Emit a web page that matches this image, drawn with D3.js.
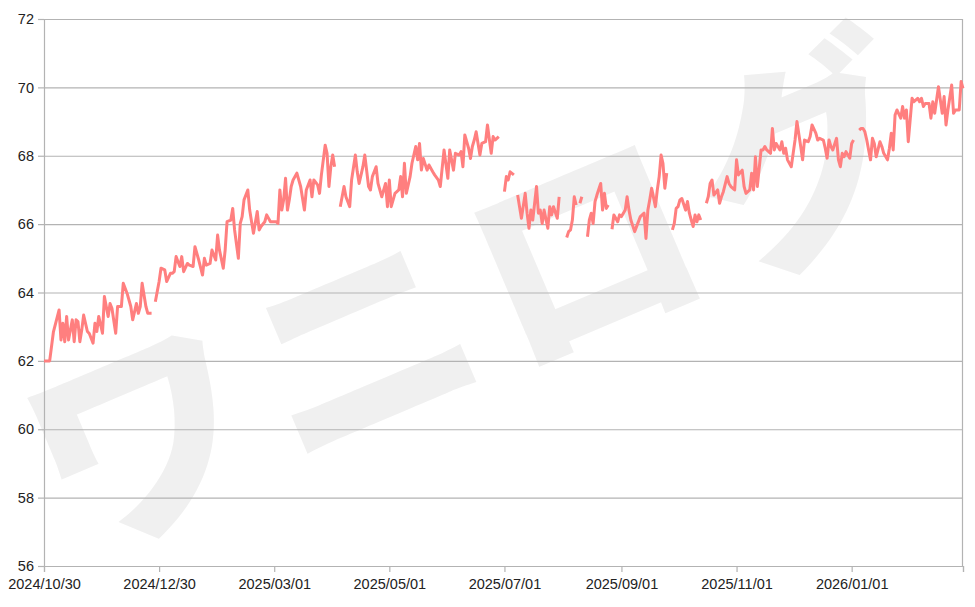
<!DOCTYPE html>
<html>
<head>
<meta charset="utf-8">
<script src="https://cdn.jsdelivr.net/npm/d3@7"></script>
<style>
body{margin:0;background:#fff;overflow:hidden;}
</style>
</head>
<body>
<svg id="main"></svg>
<script>
//--------data----------
const yTicks = [56, 58, 60, 62, 64, 66, 68, 70, 72];
const xTickDates = ['2024-10-30','2024-12-30','2025-03-01','2025-05-01','2025-07-01','2025-09-01','2025-11-01','2026-01-01','2026-03-01'];
const xTickLabels = ['2024/10/30','2024/12/30','2025/03/01','2025/05/01','2025/07/01','2025/09/01','2025/11/01','2026/01/01',''];
const watermark = 'ワニログ';

const seg1 = [
  ['2024-10-30',62.0],['2024-11-02',62.0],['2024-11-04',62.85],['2024-11-07',63.49],['2024-11-08',62.61],
  ['2024-11-09',63.10],['2024-11-10',62.56],['2024-11-11',63.30],['2024-11-12',62.61],['2024-11-14',63.20],
  ['2024-11-15',62.56],['2024-11-16',63.20],['2024-11-17',63.15],['2024-11-18',62.56],['2024-11-19',62.90],
  ['2024-11-20',63.34],['2024-11-22',62.86],['2024-11-23',62.80],['2024-11-25',62.52],['2024-11-26',63.10],
  ['2024-11-27',62.86],['2024-11-28',63.30],['2024-11-30',62.81],['2024-12-01',63.88],['2024-12-03',63.30],
  ['2024-12-04',63.68],['2024-12-05',63.54],['2024-12-07',62.81],['2024-12-08',63.59],['2024-12-10',63.59],
  ['2024-12-11',64.27],['2024-12-13',63.98],['2024-12-15',63.59],['2024-12-16',63.20],['2024-12-18',63.68],
  ['2024-12-19',63.39],['2024-12-20',63.59],['2024-12-21',64.27],['2024-12-23',63.59],['2024-12-24',63.39],
  ['2024-12-26',63.39]
];
const seg2 = [
  ['2024-12-28',63.73],['2024-12-30',64.32],['2024-12-31',64.71],['2025-01-02',64.66],['2025-01-03',64.32],
  ['2025-01-05',64.56],['2025-01-06',64.56],['2025-01-07',64.61],['2025-01-08',65.05],['2025-01-10',64.76],
  ['2025-01-11',65.05],['2025-01-12',64.61],['2025-01-14',64.85],['2025-01-15',64.80],['2025-01-17',64.76],
  ['2025-01-18',65.34],['2025-01-20',64.95],['2025-01-22',64.51],['2025-01-23',65.00],['2025-01-24',64.80],
  ['2025-01-26',64.85],['2025-01-27',65.24],['2025-01-29',64.95],['2025-01-30',65.68],['2025-01-31',65.24],
  ['2025-02-02',64.71],['2025-02-03',65.24],['2025-02-04',66.07],['2025-02-06',66.12],['2025-02-07',66.46],
  ['2025-02-08',65.83],['2025-02-10',65.00],['2025-02-11',66.02],['2025-02-12',66.22],['2025-02-13',66.71],
  ['2025-02-15',67.00],['2025-02-16',66.41],['2025-02-17',66.07],['2025-02-18',65.73],['2025-02-20',66.37],
  ['2025-02-21',65.83],['2025-02-22',65.93],['2025-02-24',66.07],['2025-02-25',66.27],['2025-02-27',66.07],
  ['2025-03-01',66.07],['2025-03-02',66.07],['2025-03-03',66.02],['2025-03-04',67.00],['2025-03-05',66.41],
  ['2025-03-06',66.71],['2025-03-07',67.34],['2025-03-08',66.41],['2025-03-09',66.71],['2025-03-10',67.10],
  ['2025-03-11',67.29],['2025-03-13',67.49],['2025-03-15',67.10],['2025-03-17',66.41],['2025-03-18',67.00],
  ['2025-03-20',67.29],['2025-03-21',66.80],['2025-03-22',67.29],['2025-03-24',67.15],['2025-03-25',66.90],
  ['2025-03-26',67.44],['2025-03-28',68.31],['2025-03-29',68.07],['2025-03-30',67.10],['2025-03-31',67.68],
  ['2025-04-01',68.02],['2025-04-02',67.68]
];
const seg3 = [
  ['2025-04-05',66.51],['2025-04-07',67.10],['2025-04-08',66.80],['2025-04-10',66.51],['2025-04-11',67.29],
  ['2025-04-13',68.02],['2025-04-14',67.53],['2025-04-15',67.19],['2025-04-17',67.68],['2025-04-18',68.02],
  ['2025-04-20',67.10],['2025-04-21',67.00],['2025-04-22',67.39],['2025-04-24',67.68],['2025-04-25',67.19],
  ['2025-04-27',66.80],['2025-04-29',67.19],['2025-04-30',66.51],['2025-05-01',67.29],['2025-05-02',66.51],
  ['2025-05-04',66.90],['2025-05-06',67.00],['2025-05-07',67.39],['2025-05-08',66.80],['2025-05-09',67.78],
  ['2025-05-10',66.90],['2025-05-12',67.39],['2025-05-13',67.78],['2025-05-15',68.27],['2025-05-16',67.88],
  ['2025-05-17',68.36],['2025-05-18',67.58],['2025-05-19',67.92],['2025-05-21',67.58],['2025-05-22',67.73],
  ['2025-05-24',67.53],['2025-05-25',67.44],['2025-05-27',67.29],['2025-05-28',67.10],['2025-05-30',68.17],
  ['2025-06-01',67.34],['2025-06-02',68.17],['2025-06-04',67.58],['2025-06-05',68.07],['2025-06-07',68.02],
  ['2025-06-08',68.12],['2025-06-09',67.68],['2025-06-10',68.61],['2025-06-12',68.22],['2025-06-13',67.92],
  ['2025-06-14',68.27],['2025-06-15',68.46],['2025-06-16',68.70],['2025-06-18',68.02],['2025-06-19',68.36],
  ['2025-06-21',68.41],['2025-06-22',68.90],['2025-06-24',68.07],['2025-06-25',68.56],['2025-06-26',68.46],
  ['2025-06-28',68.56]
];
const seg4 = [
  ['2025-07-01',66.95],['2025-07-02',67.39],['2025-07-03',67.29],['2025-07-04',67.53],['2025-07-06',67.44]
];
const seg5 = [
  ['2025-07-08',66.85],['2025-07-09',66.51],['2025-07-10',66.17],['2025-07-12',66.90],['2025-07-13',66.32],
  ['2025-07-14',65.88],['2025-07-15',66.41],['2025-07-16',66.12],['2025-07-18',67.10],['2025-07-19',66.32],
  ['2025-07-20',66.41],['2025-07-21',66.02],['2025-07-22',66.41],['2025-07-24',65.88],['2025-07-25',66.51],
  ['2025-07-26',66.27],['2025-07-27',66.51],['2025-07-29',66.17],['2025-07-30',66.80]
];
const seg6 = [
  ['2025-08-03',65.61],['2025-08-04',65.78],['2025-08-05',65.83],['2025-08-06',66.12],['2025-08-07',66.80],
  ['2025-08-08',66.56]
];
const seg7 = [['2025-08-10',66.61],['2025-08-11',66.80]];
const seg8 = [
  ['2025-08-14',65.63],['2025-08-15',66.12],['2025-08-16',66.32],['2025-08-17',66.02],['2025-08-18',66.66],
  ['2025-08-19',66.85],['2025-08-21',67.19],['2025-08-22',66.41],['2025-08-23',66.90],['2025-08-24',66.46],
  ['2025-08-25',66.56]
];
const seg9 = [
  ['2025-08-27',65.85],['2025-08-28',66.27],['2025-08-29',66.17],['2025-08-30',66.07],['2025-08-31',66.27],
  ['2025-09-01',66.22],['2025-09-03',66.41],['2025-09-04',66.80],['2025-09-05',66.41],['2025-09-06',66.12],
  ['2025-09-08',65.78],['2025-09-11',66.22],['2025-09-13',66.32],['2025-09-14',65.58],['2025-09-15',66.41],
  ['2025-09-16',66.71],['2025-09-17',67.05],['2025-09-19',66.51],['2025-09-20',67.00],['2025-09-21',67.39],
  ['2025-09-22',68.02],['2025-09-23',67.78],['2025-09-24',67.05],['2025-09-25',67.49]
];
const seg10 = [
  ['2025-09-28',65.83],['2025-09-29',66.02],['2025-09-30',66.46],['2025-10-01',66.51],['2025-10-02',66.71],
  ['2025-10-03',66.75],['2025-10-05',66.41],['2025-10-06',66.66],['2025-10-07',66.32],['2025-10-08',66.12],
  ['2025-10-09',65.93],['2025-10-10',66.27],['2025-10-11',66.07],['2025-10-12',66.27],['2025-10-13',66.12]
];
const seg11 = [
  ['2025-10-16',66.61],['2025-10-17',66.80],['2025-10-18',67.19],['2025-10-19',67.29],['2025-10-20',66.85],
  ['2025-10-22',67.00],['2025-10-23',66.61],['2025-10-24',66.80],['2025-10-25',66.95],['2025-10-27',67.39],
  ['2025-10-28',67.19],['2025-10-29',67.10],['2025-10-31',67.00],['2025-11-01',67.88],['2025-11-02',67.44],
  ['2025-11-04',67.58],['2025-11-05',67.10],['2025-11-06',66.90],['2025-11-08',67.00],['2025-11-09',67.49],
  ['2025-11-10',67.00],['2025-11-11',67.97],['2025-11-12',67.10],['2025-11-14',68.17],['2025-11-15',68.17],
  ['2025-11-16',68.27],['2025-11-17',68.17],['2025-11-19',68.07],['2025-11-20',68.80],['2025-11-21',68.17],
  ['2025-11-22',68.36],['2025-11-24',68.17],['2025-11-25',68.41],['2025-11-26',68.07],['2025-11-27',68.22],
  ['2025-11-28',67.88],['2025-11-30',67.68],['2025-12-01',68.07],['2025-12-02',68.46],['2025-12-03',69.00],
  ['2025-12-05',68.27],['2025-12-06',67.88],['2025-12-07',68.46],['2025-12-09',68.41],['2025-12-10',68.56],
  ['2025-12-11',68.90],['2025-12-13',68.66],['2025-12-14',68.46],['2025-12-15',68.51],['2025-12-17',68.46],
  ['2025-12-18',68.22],['2025-12-19',67.93],['2025-12-20',68.46],['2025-12-21',68.27],['2025-12-22',68.17],
  ['2025-12-24',68.51],['2025-12-25',67.88],['2025-12-26',67.68],['2025-12-27',68.07],['2025-12-28',67.97],
  ['2025-12-29',68.12],['2025-12-31',67.93],['2026-01-01',68.36],['2026-01-02',68.46]
];
const seg12 = [
  ['2026-01-05',68.75],['2026-01-06',68.80],['2026-01-07',68.80],['2026-01-08',68.70],['2026-01-09',68.46],
  ['2026-01-10',68.17],['2026-01-11',67.88],['2026-01-12',68.51],['2026-01-13',68.36],['2026-01-14',67.97],
  ['2026-01-16',68.41],['2026-01-17',68.27],['2026-01-18',68.07],['2026-01-20',67.88],['2026-01-21',68.22],
  ['2026-01-22',68.66],['2026-01-23',68.17],['2026-01-24',69.19],['2026-01-25',69.34],['2026-01-27',69.10],
  ['2026-01-28',69.44],['2026-01-29',69.10],['2026-01-30',69.34],['2026-01-31',68.41],['2026-02-02',69.68],
  ['2026-02-03',69.58],['2026-02-05',69.68],['2026-02-06',69.58],['2026-02-07',69.68],['2026-02-08',69.44],
  ['2026-02-09',69.53],['2026-02-11',69.53],['2026-02-12',69.10],['2026-02-13',69.58],['2026-02-14',69.24],
  ['2026-02-15',69.63],['2026-02-16',70.02],['2026-02-18',69.24],['2026-02-19',69.73],['2026-02-20',68.90],
  ['2026-02-21',69.34],['2026-02-23',70.07],['2026-02-24',69.24],['2026-02-25',69.34],['2026-02-27',69.34],
  ['2026-02-28',70.17],['2026-03-01',69.97]
];
const segments = [seg1, seg2, seg3, seg4, seg5, seg6, seg7, seg8, seg9, seg10, seg11, seg12];

//--------code----------
const parse = d3.timeParse('%Y-%m-%d');

function main(){
  let width = 975;
  let height = 607;
  let margin = {left: 44, right: 12, top: 19, bottom: 41};

  let svg = d3.select('#main')
  .attr('width', width)
  .attr('height', height)
  .style('font-family', '"Liberation Sans", Arial, sans-serif');

  let sx = d3.scaleTime()
  .domain([parse(xTickDates[0]), parse(xTickDates[xTickDates.length-1])])
  .range([margin.left, width - margin.right]);
  let sy = d3.scaleLinear()
  .domain([56, 72])
  .range([height - margin.bottom, margin.top]);

  //watermark
  svg.append('text')
  .attr('transform', 'translate(490,316) rotate(-23)')
  .attr('text-anchor', 'middle')
  .attr('dominant-baseline', 'middle')
  .style('font-family', '"Noto Sans CJK JP", sans-serif')
  .style('font-weight', 900)
  .style('font-size', '224px')
  .style('letter-spacing', '16px')
  .style('fill', '#f0f0f0')
  .text(watermark);

  //grid
  svg.append('g')
  .selectAll('line')
  .data(yTicks)
  .join('line')
  .attr('x1', sx.range()[0])
  .attr('x2', sx.range()[1])
  .attr('y1', d => sy(d) + 0.5)
  .attr('y2', d => sy(d) + 0.5)
  .attr('stroke', '#b3b3b3')
  .attr('stroke-width', 1.2);

  svg.append('line')
  .attr('x1', sx.range()[1] - 0.5)
  .attr('x2', sx.range()[1] - 0.5)
  .attr('y1', sy.range()[1])
  .attr('y2', sy.range()[0])
  .attr('stroke', '#b3b3b3')
  .attr('stroke-width', 1.2);

  let ax = d3.axisBottom(sx)
  .tickValues(xTickDates.map(parse))
  .tickFormat((d, i) => xTickLabels[i])
  .tickSize(6)
  .tickPadding(7);
  let ay = d3.axisLeft(sy)
  .tickValues(yTicks)
  .tickFormat(d3.format('d'))
  .tickSize(6)
  .tickPadding(4);

  let gx = svg.append('g')
  .attr('transform', `translate(0,${sy.range()[0]})`)
  .call(ax);
  let gy = svg.append('g')
  .attr('transform', `translate(${sx.range()[0]},0)`)
  .call(ay);

  for(let g of [gx, gy]){
    g.select('.domain').attr('stroke', '#b3b3b3').attr('stroke-width', 1.2);
    g.selectAll('.tick line').attr('stroke', '#b3b3b3').attr('stroke-width', 1.2);
    g.selectAll('.tick text')
    .style('font-size', '14.5px')
    .style('fill', '#222');
  }

  //series
  let line = d3.line()
  .x(d => sx(parse(d[0])))
  .y(d => sy(d[1]));

  svg.append('g')
  .selectAll('path')
  .data(segments)
  .join('path')
  .attr('d', line)
  .attr('fill', 'none')
  .attr('stroke', '#ff7f7f')
  .attr('stroke-width', 3)
  .attr('stroke-linejoin', 'round');
}

main();
</script>
</body>
</html>
